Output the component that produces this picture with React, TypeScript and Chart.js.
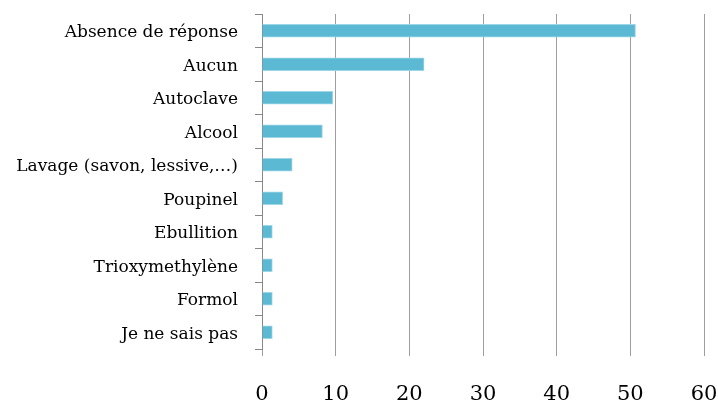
import React, { useEffect, useRef } from "react";
import { Chart, registerables } from "chart.js";

Chart.register(...registerables);

const categories = [
  "Absence de réponse",
  "Aucun",
  "Autoclave",
  "Alcool",
  "Lavage (savon, lessive,…)",
  "Poupinel",
  "Ebullition",
  "Trioxymethylène",
  "Formol",
  "Je ne sais pas",
];
const values = [50.7, 22, 9.6, 8.2, 4.1, 2.8, 1.4, 1.4, 1.4, 1.4];
const xTicks = [0, 10, 20, 30, 40, 50, 60];

export default function App() {
  const ref = useRef<HTMLCanvasElement | null>(null);
  useEffect(() => {
    if (!ref.current) return;
    const chart = new Chart(ref.current, {
      type: "bar",
      data: {
        labels: categories,
        datasets: [
          {
            data: values,
            backgroundColor: "#5bb9d3",
            borderColor: "#9dd6e6",
            borderWidth: 1,
            barThickness: 13,
          },
        ],
      },
      options: {
        indexAxis: "y",
        animation: false,
        responsive: false,
        maintainAspectRatio: false,
        layout: { padding: { top: 14, right: 14, left: 0, bottom: 0 } },
        plugins: { legend: { display: false }, tooltip: { enabled: false } },
        scales: {
          x: {
            min: 0,
            max: 60,
            afterBuildTicks: (axis: any) => {
              axis.ticks = xTicks.map((v) => ({ value: v }));
            },
            afterFit: (axis: any) => {
              axis.height = 53;
              axis.paddingLeft = 0;
              axis.paddingRight = 0;
            },
            grid: {
              color: "#9e9e9e",
              lineWidth: 1,
              tickLength: 7,
              drawTicks: true,
            },
            border: { display: false },
            ticks: {
              font: { family: "DejaVu Serif", size: 21 },
              color: "#000",
              padding: 26,
              maxRotation: 0,
            },
          },
          y: {
            afterFit: (axis: any) => {
              axis.width = 262;
              axis.paddingTop = 0;
              axis.paddingBottom = 0;
            },
            grid: {
              offset: true,
              drawOnChartArea: false,
              color: "#888",
              tickLength: 7,
            },
            border: { display: true, color: "#888", width: 1 },
            ticks: {
              font: { family: "DejaVu Serif", size: 17 },
              color: "#000",
              padding: 17,
              labelOffset: 2,
            },
          },
        },
      },
    });
    return () => chart.destroy();
  }, []);
  return (
    <div style={{ position: "fixed", left: 0, top: 0, width: 718, height: 402, background: "#fff" }}>
      <canvas ref={ref} width={718} height={402} style={{ width: 718, height: 402 }} />
    </div>
  );
}
